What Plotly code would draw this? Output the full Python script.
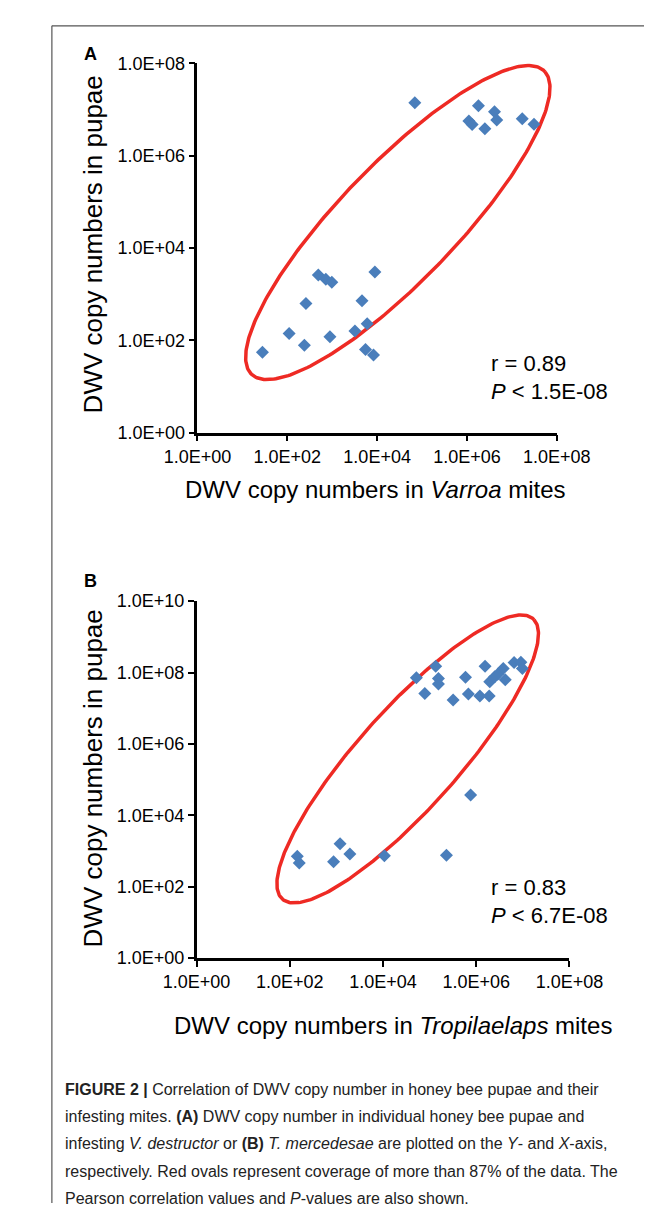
import numpy as np
import plotly.graph_objects as go

W, H = 670, 1205

# ---------------- data ----------------
# Panel A: DWV copies in Varroa mites (x) vs pupae (y)
varroa_mites = [6.9e4, 1.8e6, 4.1e6, 4.6e6, 1.1e6, 1.3e6, 2.5e6, 1.7e7, 3.1e7,
                490, 720, 980, 8900, 260, 4600, 6000, 3200, 890, 110, 240, 28, 5500, 8300]
varroa_pupae = [1.4e7, 1.2e7, 8.9e6, 5.9e6, 5.6e6, 4.7e6, 3.8e6, 6.3e6, 4.8e6,
                2600, 2100, 1800, 3000, 630, 720, 230, 160, 120, 140, 78, 55, 63, 48]

# Panel B: DWV copies in Tropilaelaps mites (x) vs pupae (y)
tropi_mites = [5.2e4, 1.35e5, 1.55e5, 1.55e5, 7.9e4, 3.2e5, 5.9e5, 6.8e5, 1.2e6, 1.9e6,
               1.55e6, 1.95e6, 2.5e6, 2.9e6, 3.8e6, 4.2e6, 6.5e6, 9.1e6, 9.8e6,
               7.6e5, 145, 160, 870, 1200, 1950, 1.07e4, 2.3e5]
tropi_pupae = [7.2e7, 1.5e8, 6.8e7, 4.8e7, 2.6e7, 1.7e7, 7.4e7, 2.5e7, 2.2e7, 2.2e7,
               1.5e8, 5.5e7, 7.6e7, 8.9e7, 1.3e8, 6.3e7, 1.9e8, 1.95e8, 1.3e8,
               3.7e4, 720, 460, 500, 1600, 830, 740, 760]

x_tick_vals = [1, 1e2, 1e4, 1e6, 1e8]
x_tick_text = ["1.0E+00", "1.0E+02", "1.0E+04", "1.0E+06", "1.0E+08"]
yA_tick_vals = [1, 1e2, 1e4, 1e6, 1e8]
yA_tick_text = ["1.0E+00", "1.0E+02", "1.0E+04", "1.0E+06", "1.0E+08"]
yB_tick_vals = [1, 1e2, 1e4, 1e6, 1e8, 1e10]
yB_tick_text = ["1.0E+00", "1.0E+02", "1.0E+04", "1.0E+06", "1.0E+08", "1.0E+10"]

stats_A = ["r = 0.89", "<i>P</i> < 1.5E-08"]
stats_B = ["r = 0.83", "<i>P</i> < 6.7E-08"]

# coverage ellipses in log10 units: centre, half-major vector, half-minor vector
ellipse_A = dict(center=(4.46, 4.55), major=(3.28, 3.26), minor=(0.846, -0.966))
ellipse_B = dict(center=(4.53, 5.58), major=(2.71, 3.90), minor=(0.728, -1.03))

caption_lines = [
    "<b>FIGURE 2 |</b> Correlation of DWV copy number in honey bee pupae and their",
    "infesting mites. <b>(A)</b> DWV copy number in individual honey bee pupae and",
    "infesting <i>V. destructor</i> or <b>(B)</b> <i>T. mercedesae</i> are plotted on the <i>Y</i>- and <i>X</i>-axis,",
    "respectively. Red ovals represent coverage of more than 87% of the data. The",
    "Pearson correlation values and <i>P</i>-values are also shown.",
]

# ---------------- styling ----------------
FONT = "Liberation Sans, Arial, sans-serif"
CAP_FONT = "Liberation Sans Narrow, Arial Narrow, Liberation Sans, sans-serif"
BLUE = "#4a7ebb"
RED = "#ee2a24"


def px(x):
    return x / W


def py(y):
    return 1 - y / H


def ellipse_pts(e, n=300):
    t = np.linspace(0, 2 * np.pi, n)
    cx, cy = e["center"]
    ax, ay = e["major"]
    bx, by = e["minor"]
    lx = cx + ax * np.cos(t) + bx * np.sin(t)
    ly = cy + ay * np.cos(t) + by * np.sin(t)
    return 10 ** lx, 10 ** ly


fig = go.Figure()

for e, xa, ya in [(ellipse_A, "x", "y"), (ellipse_B, "x2", "y2")]:
    ex, ey = ellipse_pts(e)
    fig.add_trace(go.Scatter(x=ex, y=ey, mode="lines", xaxis=xa, yaxis=ya,
                             line=dict(color=RED, width=3.5), hoverinfo="skip",
                             showlegend=False))

fig.add_trace(go.Scatter(x=varroa_mites, y=varroa_pupae, mode="markers", xaxis="x", yaxis="y",
                         marker=dict(symbol="diamond", size=10, color=BLUE), showlegend=False,
                         cliponaxis=False))
fig.add_trace(go.Scatter(x=tropi_mites, y=tropi_pupae, mode="markers", xaxis="x2", yaxis="y2",
                         marker=dict(symbol="diamond", size=10, color=BLUE), showlegend=False,
                         cliponaxis=False))

axis_common = dict(type="log", showgrid=False, zeroline=False, showline=True,
                   linecolor="black", linewidth=2.5, ticks="outside", ticklen=6,
                   tickwidth=2, tickcolor="black", mirror=False,
                   tickfont=dict(family=FONT, size=18, color="black"), fixedrange=True)

fig.update_layout(
    width=W, height=H,
    margin=dict(l=0, r=0, t=0, b=0),
    paper_bgcolor="white", plot_bgcolor="white",
    showlegend=False,
    xaxis=dict(axis_common, domain=[px(173), px(573)], range=[0, 8], anchor="y",
               tickvals=x_tick_vals, ticktext=x_tick_text),
    yaxis=dict(axis_common, domain=[py(421.7), py(46)], range=[0, 8], anchor="x",
               tickvals=yA_tick_vals, ticktext=yA_tick_text),
    xaxis2=dict(axis_common, domain=[px(172), px(587)], range=[0, 8], anchor="y2",
                tickvals=x_tick_vals, ticktext=x_tick_text),
    yaxis2=dict(axis_common, domain=[py(956), py(593)], range=[0, 10], anchor="x2",
                tickvals=yB_tick_vals, ticktext=yB_tick_text),
)

ann = []
# panel letters
ann.append(dict(text="<b>A</b>", x=px(44), y=py(37), xanchor="left", yanchor="middle",
                font=dict(family=FONT, size=18, color="black")))
ann.append(dict(text="<b>B</b>", x=px(44), y=py(573), xanchor="left", yanchor="middle",
                font=dict(family=FONT, size=18, color="black")))
# axis titles
ann.append(dict(text="DWV copy numbers in pupae", x=px(57), y=py(230), textangle=-90,
                xanchor="center", yanchor="middle", font=dict(family=FONT, size=26, color="black")))
ann.append(dict(text="DWV copy numbers in pupae", x=px(57), y=py(773), textangle=-90,
                xanchor="center", yanchor="middle", font=dict(family=FONT, size=26, color="black")))
ann.append(dict(text="DWV copy numbers in <i>Varroa</i> mites", x=px(371), y=py(479),
                xanchor="center", yanchor="middle", font=dict(family=FONT, size=24, color="black")))
ann.append(dict(text="DWV copy numbers in <i>Tropilaelaps</i> mites", x=px(391), y=py(1025),
                xanchor="center", yanchor="middle", font=dict(family=FONT, size=24, color="black")))
# statistics
for i, s in enumerate(stats_A):
    ann.append(dict(text=s, x=px(497), y=py(351 + 29 * i), xanchor="left", yanchor="middle",
                    font=dict(family=FONT, size=22, color="black")))
for i, s in enumerate(stats_B):
    ann.append(dict(text=s, x=px(497), y=py(884 + 29 * i), xanchor="left", yanchor="middle",
                    font=dict(family=FONT, size=22, color="black")))
# caption
for i, line in enumerate(caption_lines):
    ann.append(dict(text=line, x=px(23), y=py(1090 + 27.5 * i), xanchor="left", yanchor="middle",
                    font=dict(family=CAP_FONT, size=16, color="#222222")))

for a in ann:
    a.update(xref="paper", yref="paper", showarrow=False)
fig.update_layout(annotations=ann)

# frame lines (top and left)
fig.update_layout(shapes=[
    dict(type="line", xref="paper", yref="paper", x0=px(11), x1=1, y0=py(8), y1=py(8),
         line=dict(color="#555555", width=1.2)),
    dict(type="line", xref="paper", yref="paper", x0=px(11), x1=px(11), y0=py(8), y1=0,
         line=dict(color="#555555", width=1.2)),
])

fig.write_html("out.html")
